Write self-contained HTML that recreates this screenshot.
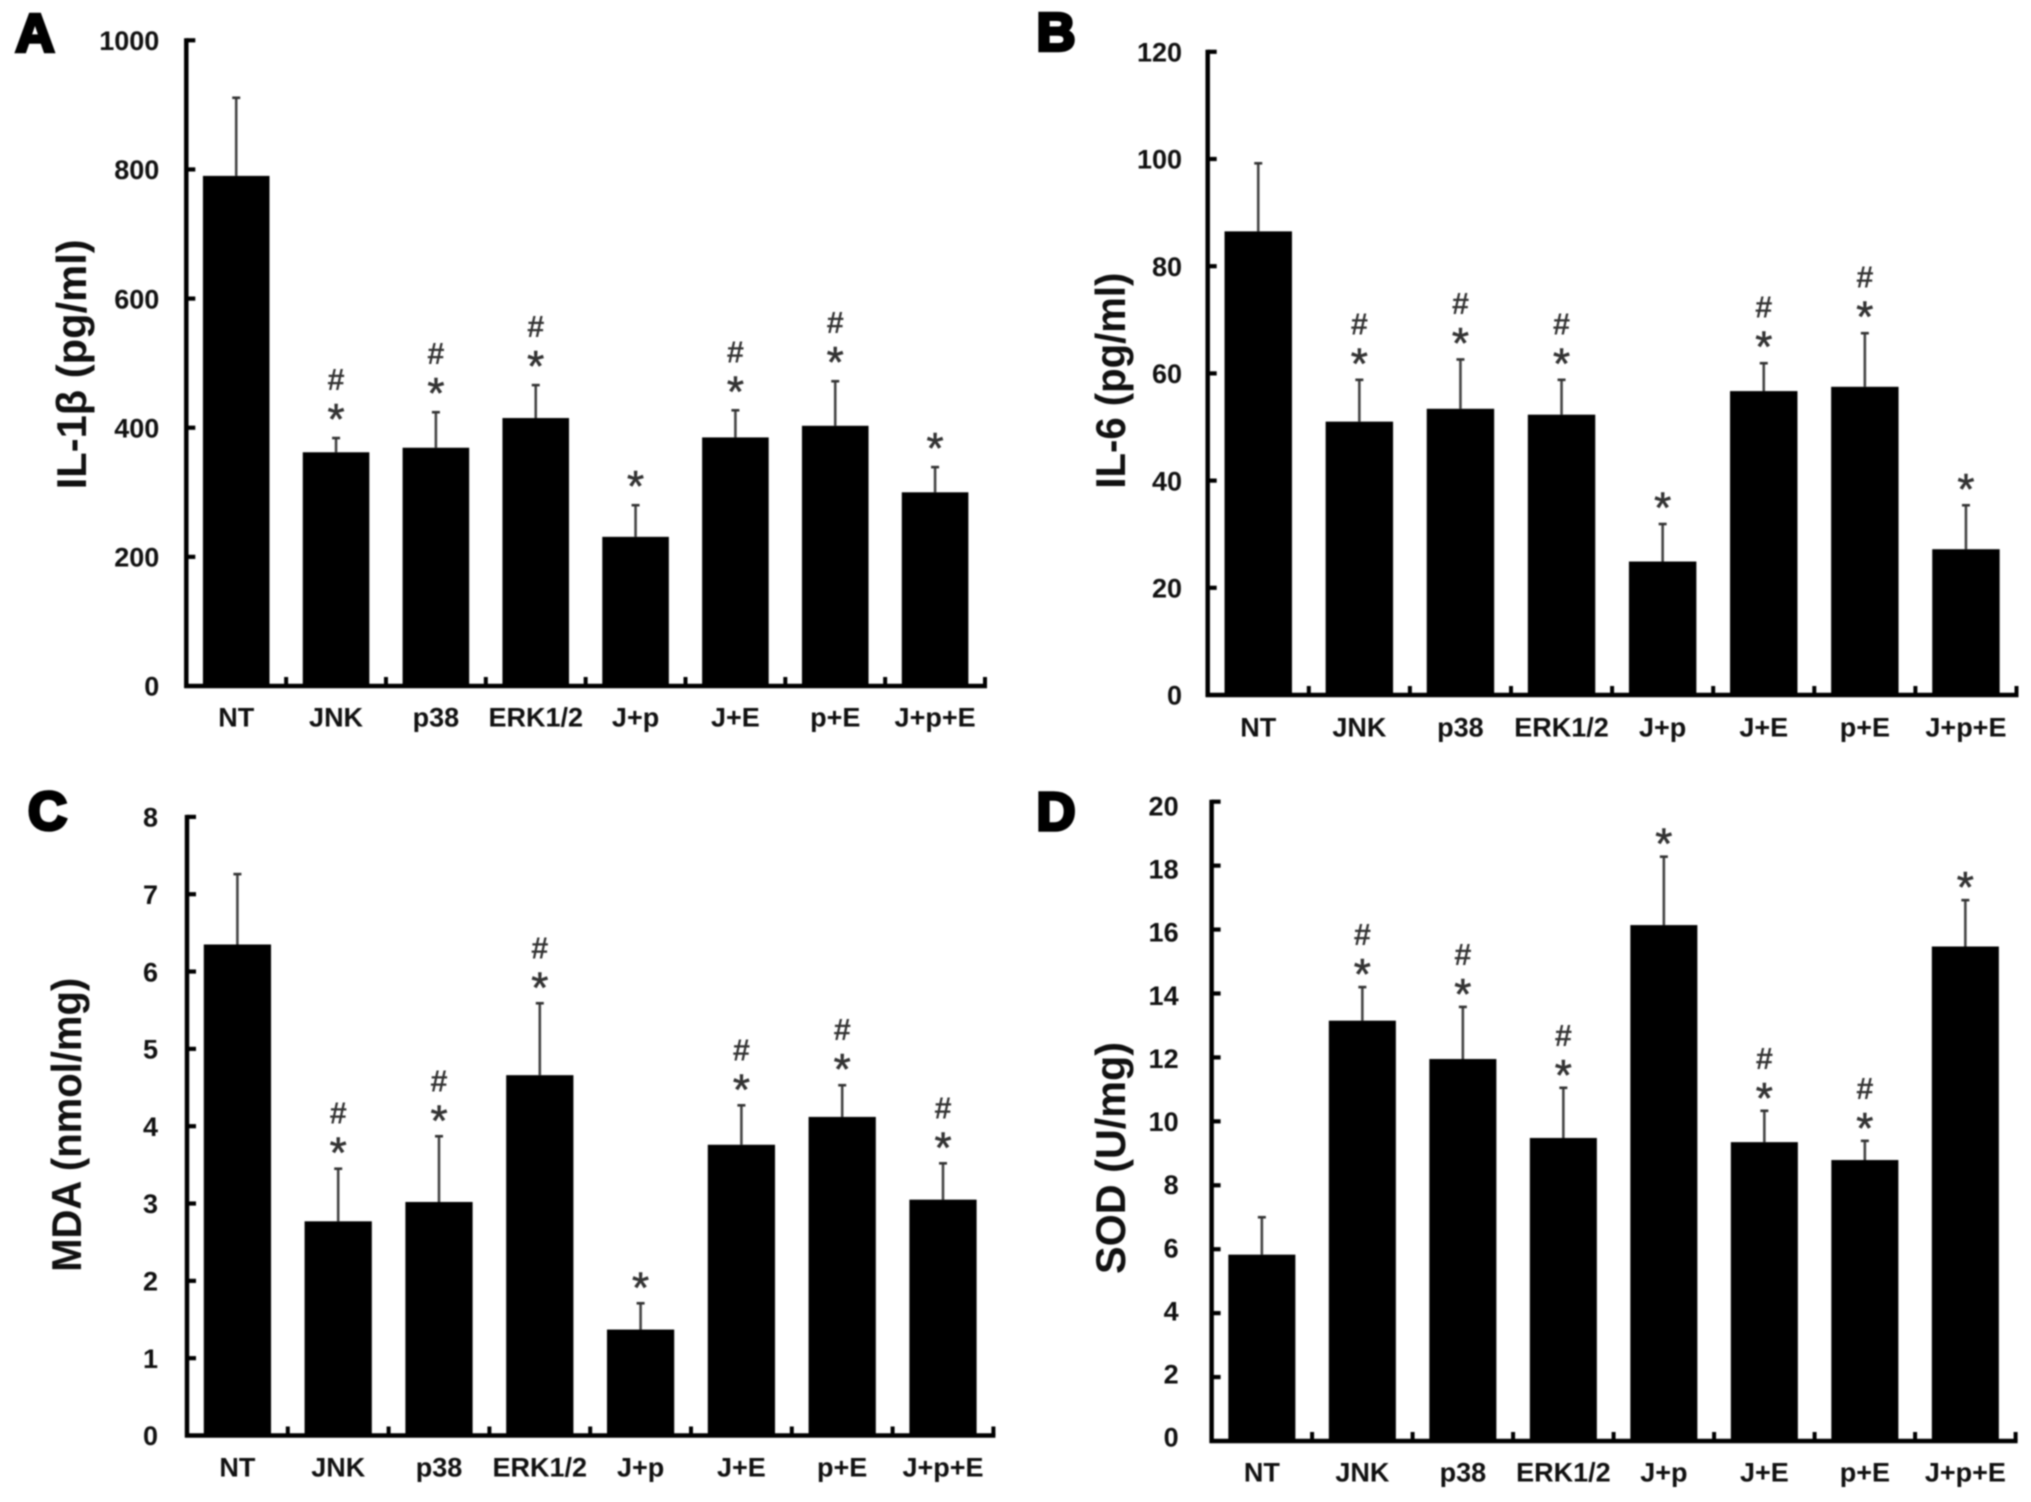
<!DOCTYPE html>
<html lang="en">
<head>
<meta charset="utf-8">
<title>Cytokine and oxidative stress bar charts</title>
<style>
  html, body { margin: 0; padding: 0; background: #fff; }
  body { width: 2031px; height: 1502px; overflow: hidden; }
  svg { display: block; filter: blur(0.7px); }
  text { font-family: "Liberation Sans", "DejaVu Sans", sans-serif; fill: #000; }
  .tick { font-weight: bold; font-size: 27px; fill: #111; }
  .cat { font-weight: bold; font-size: 27px; fill: #111; }
  .ytitle { font-weight: bold; font-size: 42px; fill: #111; }
  .letter { font-weight: bold; font-size: 54px; stroke: #000; stroke-width: 3.5px; }
  .star { font-size: 44px; fill: #333; stroke: #333; stroke-width: 0.6px; }
  .hash { font-size: 31px; font-weight: bold; fill: #333; }
</style>
</head>
<body>
<svg id="figure" xmlns="http://www.w3.org/2000/svg" width="2031" height="1502" viewBox="0 0 2031 1502"></svg>
<script>
const categories = ["NT", "JNK", "p38", "ERK1/2", "J+p", "J+E", "p+E", "J+p+E"];

const il1bValues = [790, 362, 369, 415, 231, 385, 403, 300];
const il1bErrorTops = [911, 384, 424, 466, 280, 427, 472, 339];
const il1bMarks = ["", "#*", "#*", "#*", "*", "#*", "#*", "*"];
const il1bTicks = [0, 200, 400, 600, 800, 1000];

const il6Values = [86.5, 51, 53.4, 52.3, 24.9, 56.7, 57.5, 27.2];
const il6ErrorTops = [99.2, 58.8, 62.6, 58.8, 31.9, 61.9, 67.5, 35.4];
const il6Marks = ["", "#*", "#*", "#*", "*", "#*", "#*", "*"];
const il6Ticks = [0, 20, 40, 60, 80, 100, 120];

const mdaValues = [6.35, 2.77, 3.02, 4.66, 1.37, 3.76, 4.12, 3.05];
const mdaErrorTops = [7.26, 3.45, 3.87, 5.59, 1.71, 4.27, 4.53, 3.52];
const mdaMarks = ["", "#*", "#*", "#*", "*", "#*", "#*", "#*"];
const mdaTicks = [0, 1, 2, 3, 4, 5, 6, 7, 8];

const sodValues = [5.83, 13.15, 11.95, 9.48, 16.14, 9.35, 8.79, 15.47];
const sodErrorTops = [7.0, 14.2, 13.58, 11.05, 18.28, 10.33, 9.39, 16.92];
const sodMarks = ["", "#*", "#*", "#*", "*", "#*", "#*", "*"];
const sodTicks = [0, 2, 4, 6, 8, 10, 12, 14, 16, 18, 20];

const svg = document.getElementById('figure');
const NS = 'http://www.w3.org/2000/svg';

function make(tag, attrs, parent, content) {
  const el = document.createElementNS(NS, tag);
  for (const k in attrs) el.setAttribute(k, attrs[k]);
  if (content !== undefined) el.textContent = content;
  parent.appendChild(el);
  return el;
}

function drawPanel(p) {
  const g = make('g', {}, svg);
  
  

  const yMax = p.ticks[p.ticks.length - 1];
  const yOf = v => p.y0 - (v / yMax) * (p.y0 - p.yTop);
  const labelYOf = v => p.y0 + p.labelBottom - (v / yMax) * (p.y0 + p.labelBottom - p.yTop - p.labelTop);
  const step = (p.xEnd - p.xAxis) / categories.length;
  const xOf = i => p.xAxis + step * (i + 0.5);
  const barW = step * 0.667;

  // panel letter
  const letter = make('text', { class: 'letter', x: p.letterX, y: p.letterY, 'text-anchor': 'middle' }, g, p.letter);
  
  

  // y axis title
  const title = make('text', { class: 'ytitle', 'text-anchor': 'middle', textLength: p.titleLength, lengthAdjust: 'spacingAndGlyphs', transform: 'translate(' + p.titleX + ',' + p.titleY + ') rotate(-90)' }, g, p.title);
  
  

  // bars and error bars
  categories.forEach((cat, i) => {
    const cx = xOf(i);
    const top = yOf(p.values[i]);
    const errTop = yOf(p.errors[i]);

    const err = make('line', { x1: cx, x2: cx, y1: top, y2: errTop, stroke: '#444', 'stroke-width': 2.6 }, g);
    
    

    const cap = make('line', { x1: cx - 4, x2: cx + 4, y1: errTop, y2: errTop, stroke: '#333', 'stroke-width': 2.6 }, g);
    
    

    const bar = make('rect', { x: cx - barW / 2, y: top, width: barW, height: p.y0 - top, fill: '#000' }, g);
    
    

    if (p.marks[i].includes('*')) {
      const star = make('text', { class: 'star', x: cx, y: errTop - 4 + p.markShift, 'text-anchor': 'middle' }, g, '*');
      
      
    }
    if (p.marks[i].includes('#')) {
      const hash = make('text', { class: 'hash', x: cx, y: errTop - 48 + p.markShift, 'text-anchor': 'middle' }, g, '#');
      
      
    }

    const label = make('text', { class: 'cat', x: cx, y: p.catBaseline, 'text-anchor': 'middle' }, g, cat);
    
    
  });

  // y axis, ticks and labels
  const yAxis = make('line', { x1: p.xAxis, x2: p.xAxis, y1: p.yTop - 2, y2: p.y0 + 2, stroke: '#000', 'stroke-width': 4.5 }, g);
  
  

  p.ticks.forEach(t => {
    const y = yOf(t);
    if (t !== 0) {
      const tick = make('line', { x1: p.xAxis, x2: p.xAxis + 9, y1: y, y2: y, stroke: '#000', 'stroke-width': 4.2 }, g);
      
      
    }
    const lab = make('text', { class: 'tick', x: p.xAxis - p.labelGap, y: labelYOf(t) + 9.7, 'text-anchor': 'end' }, g, String(t));
    
    
  });

  // x axis and ticks
  const xAxis = make('line', { x1: p.xAxis - 2, x2: p.xEnd + 2, y1: p.y0, y2: p.y0, stroke: '#000', 'stroke-width': 4.5 }, g);
  
  

  categories.forEach((cat, i) => {
    const x = p.xAxis + step * (i + 1);
    const tick = make('line', { x1: x, x2: x, y1: p.y0, y2: p.y0 - 9, stroke: '#000', 'stroke-width': 4 }, g);
    
    
  });
}

drawPanel({ key: 'il1b', letter: 'A', title: 'IL-1β (pg/ml)', values: il1bValues, errors: il1bErrorTops, marks: il1bMarks, ticks: il1bTicks,
  xAxis: 186.3, xEnd: 985, yTop: 40.3, y0: 686, labelGap: 27, labelTop: 0, labelBottom: 0, catBaseline: 726.7, markShift: 0,
  letterX: 35, letterY: 51.3, titleX: 86, titleY: 364.3, titleLength: 250 });
drawPanel({ key: 'il6', letter: 'B', title: 'IL-6 (pg/ml)', values: il6Values, errors: il6ErrorTops, marks: il6Marks, ticks: il6Ticks,
  xAxis: 1207.7, xEnd: 2016.5, yTop: 51.8, y0: 695, labelGap: 25.7, labelTop: 0, labelBottom: 0, catBaseline: 736.7, markShift: 2.5,
  letterX: 1056, letterY: 50.5, titleX: 1125, titleY: 380.6, titleLength: 216 });
drawPanel({ key: 'mda', letter: 'C', title: 'MDA (nmol/mg)', values: mdaValues, errors: mdaErrorTops, marks: mdaMarks, ticks: mdaTicks,
  xAxis: 187, xEnd: 993.4, yTop: 816.9, y0: 1435.5, labelGap: 29, labelTop: 0, labelBottom: 0, catBaseline: 1476.7, markShift: 3,
  letterX: 47.5, letterY: 829.5, titleX: 81, titleY: 1124.8, titleLength: 294 });
drawPanel({ key: 'sod', letter: 'D', title: 'SOD (U/mg)', values: sodValues, errors: sodErrorTops, marks: sodMarks, ticks: sodTicks,
  xAxis: 1211.6, xEnd: 2015.6, yTop: 801.7, y0: 1441, labelGap: 33, labelTop: 4, labelBottom: -4, catBaseline: 1481.7, markShift: 6,
  letterX: 1056, letterY: 830, titleX: 1125, titleY: 1158, titleLength: 232 });
</script>
</body>
</html>
